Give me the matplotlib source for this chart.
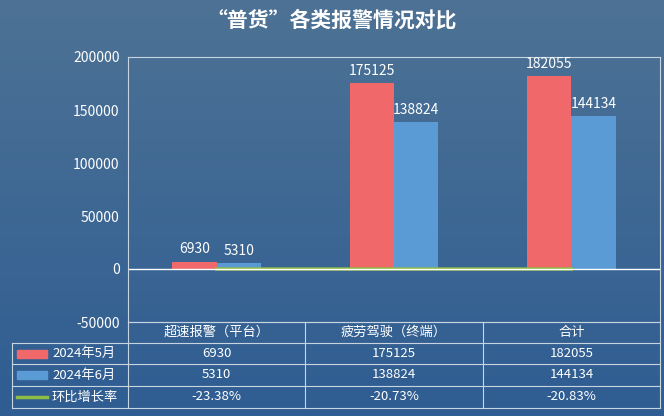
import numpy as np
import matplotlib.pyplot as plt
from matplotlib.patches import Rectangle

plt.rcParams['font.family'] = ['Noto Sans CJK SC', 'DejaVu Sans']

categories = ['超速报警（平台）', '疲劳驾驶（终端）', '合计']
may_vals   = [6930, 175125, 182055]
jun_vals   = [5310, 138824, 144134]
growth     = [-23.38, -20.73, -20.83]
yticks     = [-50000, 0, 50000, 100000, 150000, 200000]

RED, BLUE, GREEN = '#f0686a', '#5b9bd5', '#8fbc45'

fig = plt.figure(figsize=(6.64, 4.16), dpi=100)
bg = fig.add_axes([0, 0, 1, 1], zorder=-10)
grad = np.linspace(0, 1, 256).reshape(-1, 1)
from matplotlib.colors import LinearSegmentedColormap
cmap = LinearSegmentedColormap.from_list('bg', ['#4d7295', '#2f5d92'])
bg.imshow(grad, aspect='auto', cmap=cmap, extent=[0, 1, 0, 1])
bg.axis('off')

W, H = 664, 416
x0, x1, ytop, ybot = 128, 660, 57, 322
ax = fig.add_axes([x0 / W, 1 - ybot / H, (x1 - x0) / W, (ybot - ytop) / H])
ax.patch.set_alpha(0)
x = np.arange(len(categories))
bw = 0.25
ax.bar(x - bw / 2, may_vals, bw, color=RED)
ax.bar(x + bw / 2, jun_vals, bw, color=BLUE)
ax.plot(x, growth, color=GREEN, lw=2.5)
for xi, v in zip(x, may_vals):
    ax.text(xi - bw / 2, v + 5000, str(v), ha='center', va='bottom', color='white', fontsize=10)
for xi, v in zip(x, jun_vals):
    ax.text(xi + bw / 2, v + 5000, str(v), ha='center', va='bottom', color='white', fontsize=10)
ax.set_xlim(-0.5, 2.5)
ax.set_ylim(-50000, 200000)
ax.set_yticks(yticks)
ax.set_yticklabels([str(t) for t in yticks], color='white', fontsize=10)
ax.set_xticks([])
ax.axhline(0, color='white', lw=1)
for s in ax.spines.values():
    s.set_color('#c8d4e0')
    s.set_linewidth(0.8)
ax.tick_params(axis='y', length=0, pad=6)

fig.text(0.5, 1 - 20 / H, '“普货”各类报警情况对比', ha='center', va='center',
         color='white', fontsize=15, fontweight='bold')

# data table
rows_y = [322, 343, 364, 386, 408]
col_x = [12, 128, 305, 483, 660]
lc = '#c8d4e0'
def fx(p): return p / W
def fy(p): return 1 - p / H
for yy in rows_y[1:]:
    bg.plot([fx(12), fx(660)], [fy(yy), fy(yy)], color=lc, lw=0.8, transform=fig.transFigure)
bg.plot([fx(128), fx(660)], [fy(322), fy(322)], color=lc, lw=0.8, transform=fig.transFigure)
for i, xx in enumerate(col_x):
    top = 343 if i == 0 else 322
    bg.plot([fx(xx), fx(xx)], [fy(top), fy(408)], color=lc, lw=0.8, transform=fig.transFigure)
bg.set_xlim(0, 1); bg.set_ylim(0, 1)

for j, c in enumerate(categories):
    fig.text(fx((col_x[j + 1] + col_x[j + 2]) / 2), fy(332.5), c, ha='center', va='center',
             color='white', fontsize=9.5)
labels = ['2024年5月', '2024年6月', '环比增长率']
series = [[str(v) for v in may_vals], [str(v) for v in jun_vals], [f'{g:.2f}%' for g in growth]]
colors = [RED, BLUE, GREEN]
for r in range(3):
    yc = (rows_y[r + 1] + rows_y[r + 2]) / 2
    if r < 2:
        fig.patches.append(Rectangle((fx(17), fy(yc + 4)), 30 / W, 8 / H, color=colors[r],
                                     transform=fig.transFigure))
    else:
        bg.plot([fx(17), fx(47)], [fy(yc), fy(yc)], color=GREEN, lw=2.5, transform=fig.transFigure)
    fig.text(fx(52), fy(yc), labels[r], ha='left', va='center', color='white', fontsize=9.5)
    for j in range(3):
        fig.text(fx((col_x[j + 1] + col_x[j + 2]) / 2), fy(yc), series[r][j], ha='center',
                 va='center', color='white', fontsize=9.5)

fig.savefig('out.png', dpi=100)
